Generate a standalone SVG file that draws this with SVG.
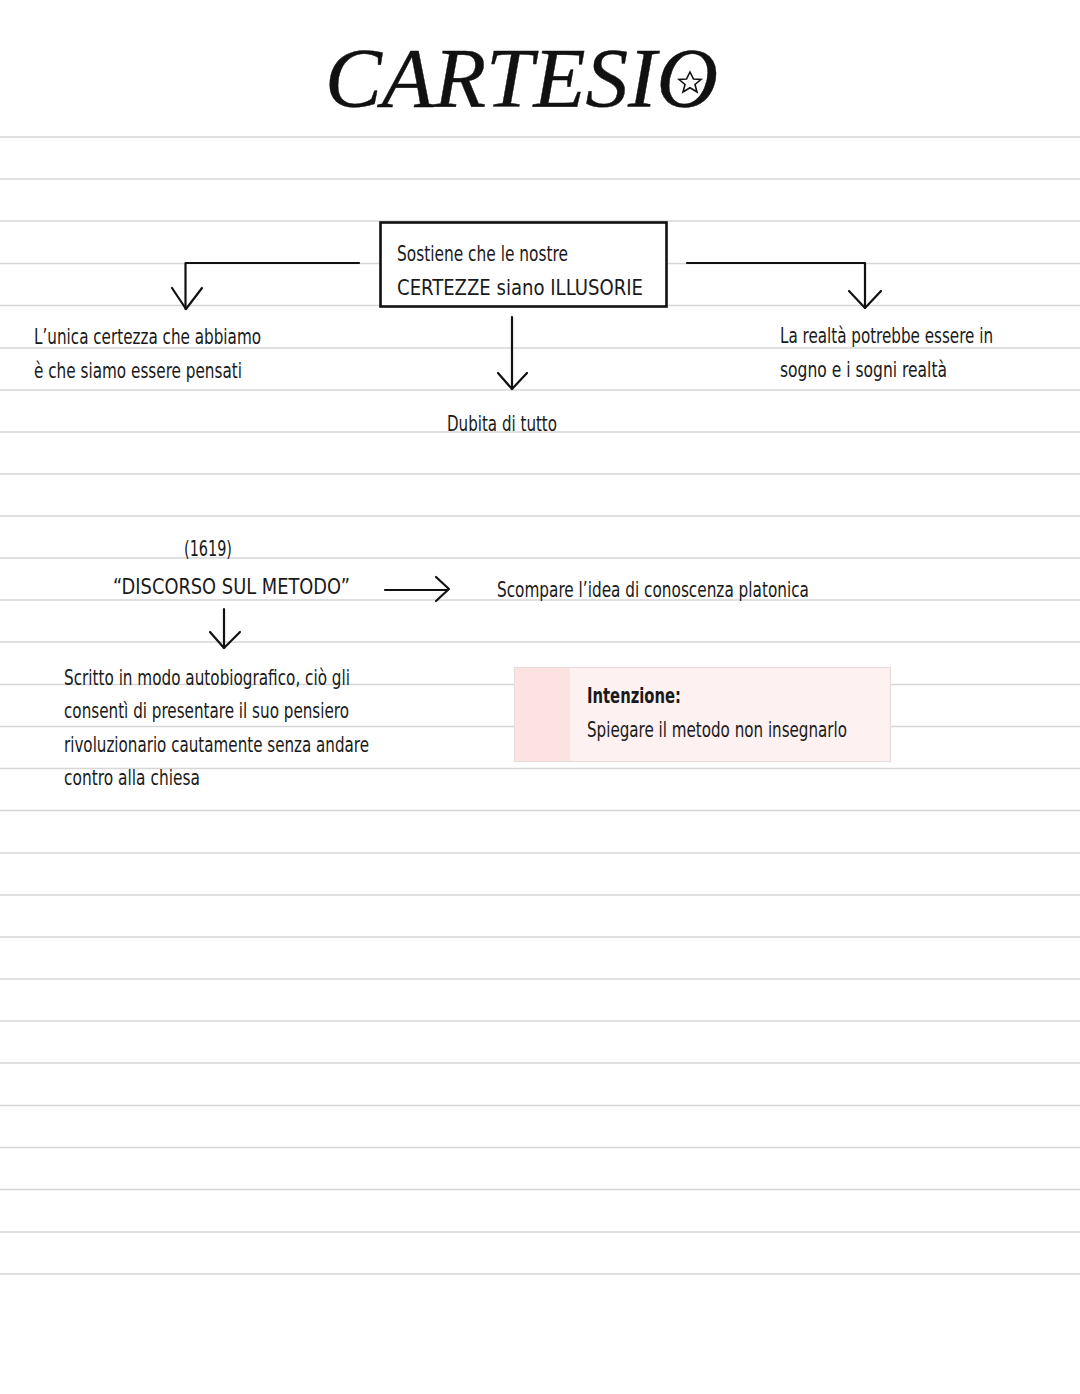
<svg xmlns="http://www.w3.org/2000/svg" width="1080" height="1394" viewBox="0 0 1080 1394">
<style>
.rule{stroke:#d6d6d6;stroke-width:1.6}
.t{font-family:"Liberation Sans Narrow","DejaVu Sans Condensed","Liberation Sans",sans-serif;font-size:21px;fill:#1a1a1a}
.b{font-weight:bold}
.c{fill:none;stroke:#111;stroke-width:2.2;stroke-linecap:round;stroke-linejoin:round}
.title{font-family:"Liberation Serif","DejaVu Serif",serif;font-style:italic;font-size:84px;fill:#111;stroke:#111;stroke-width:0.4}
</style>
<rect width="1080" height="1394" fill="#ffffff"/>
<g id="ruling">
<line class="rule" x1="0" x2="1080" y1="137" y2="137"/>
<line class="rule" x1="0" x2="1080" y1="179" y2="179"/>
<line class="rule" x1="0" x2="1080" y1="221" y2="221"/>
<line class="rule" x1="0" x2="1080" y1="263.5" y2="263.5"/>
<line class="rule" x1="0" x2="1080" y1="305.5" y2="305.5"/>
<line class="rule" x1="0" x2="1080" y1="348" y2="348"/>
<line class="rule" x1="0" x2="1080" y1="390" y2="390"/>
<line class="rule" x1="0" x2="1080" y1="432" y2="432"/>
<line class="rule" x1="0" x2="1080" y1="474" y2="474"/>
<line class="rule" x1="0" x2="1080" y1="516" y2="516"/>
<line class="rule" x1="0" x2="1080" y1="558" y2="558"/>
<line class="rule" x1="0" x2="1080" y1="600" y2="600"/>
<line class="rule" x1="0" x2="1080" y1="642" y2="642"/>
<line class="rule" x1="0" x2="1080" y1="684.5" y2="684.5"/>
<line class="rule" x1="0" x2="1080" y1="726.5" y2="726.5"/>
<line class="rule" x1="0" x2="1080" y1="768.5" y2="768.5"/>
<line class="rule" x1="0" x2="1080" y1="810.5" y2="810.5"/>
<line class="rule" x1="0" x2="1080" y1="853" y2="853"/>
<line class="rule" x1="0" x2="1080" y1="895" y2="895"/>
<line class="rule" x1="0" x2="1080" y1="937" y2="937"/>
<line class="rule" x1="0" x2="1080" y1="979" y2="979"/>
<line class="rule" x1="0" x2="1080" y1="1021" y2="1021"/>
<line class="rule" x1="0" x2="1080" y1="1063" y2="1063"/>
<line class="rule" x1="0" x2="1080" y1="1105.5" y2="1105.5"/>
<line class="rule" x1="0" x2="1080" y1="1147.5" y2="1147.5"/>
<line class="rule" x1="0" x2="1080" y1="1189.5" y2="1189.5"/>
<line class="rule" x1="0" x2="1080" y1="1232" y2="1232"/>
<line class="rule" x1="0" x2="1080" y1="1274" y2="1274"/>
</g>
<g id="title">
<text class="title" x="325" y="107" textLength="393" lengthAdjust="spacingAndGlyphs">CARTESIO</text>
<polygon points="690,72 693.5,79 701,79.5 695,84.5 697,92 690,87.8 683,92 685,84.5 679,79.5 686.5,79" fill="none" stroke="#111" stroke-width="1.6"/>
</g>
<g id="node-main">
<rect x="380.5" y="222.5" width="286" height="84" fill="#ffffff" stroke="#111" stroke-width="2.6"/>
<text class="t" x="397" y="261" textLength="171" lengthAdjust="spacingAndGlyphs">Sostiene che le nostre</text>
<text class="t" x="397" y="295" textLength="246" lengthAdjust="spacingAndGlyphs">CERTEZZE siano ILLUSORIE</text>
</g>
<g id="node-left">
<text class="t" x="34" y="344" textLength="227" lengthAdjust="spacingAndGlyphs">L’unica certezza che abbiamo</text>
<text class="t" x="34" y="378" textLength="208" lengthAdjust="spacingAndGlyphs">è che siamo essere pensati</text>
</g>
<g id="node-right">
<text class="t" x="780" y="343" textLength="213" lengthAdjust="spacingAndGlyphs">La realtà potrebbe essere in</text>
<text class="t" x="780" y="377" textLength="167" lengthAdjust="spacingAndGlyphs">sogno e i sogni realtà</text>
</g>
<g id="node-dubita">
<text class="t" x="447" y="431" textLength="110" lengthAdjust="spacingAndGlyphs">Dubita di tutto</text>
</g>
<g id="node-discorso">
<text class="t" x="184" y="556" textLength="48" lengthAdjust="spacingAndGlyphs">(1619)</text>
<text class="t" x="113" y="594" textLength="237" lengthAdjust="spacingAndGlyphs">“DISCORSO SUL METODO”</text>
</g>
<g id="node-scompare">
<text class="t" x="497" y="597" textLength="312" lengthAdjust="spacingAndGlyphs">Scompare l’idea di conoscenza platonica</text>
</g>
<g id="node-scritto">
<text class="t" x="64" y="685" textLength="286" lengthAdjust="spacingAndGlyphs">Scritto in modo autobiografico, ciò gli</text>
<text class="t" x="64" y="718" textLength="285" lengthAdjust="spacingAndGlyphs">consentì di presentare il suo pensiero</text>
<text class="t" x="64" y="752" textLength="305" lengthAdjust="spacingAndGlyphs">rivoluzionario cautamente senza andare</text>
<text class="t" x="64" y="785" textLength="136" lengthAdjust="spacingAndGlyphs">contro alla chiesa</text>
</g>
<g id="node-intenzione">
<rect x="514.5" y="667.5" width="376" height="94" fill="#fdf1f1" stroke="#e6dcdc" stroke-width="1.2"/>
<rect x="515" y="668" width="55" height="93" fill="#fde2e2"/>
<text class="t b" x="587" y="703" textLength="94" lengthAdjust="spacingAndGlyphs">Intenzione:</text>
<text class="t" x="587" y="737" textLength="260" lengthAdjust="spacingAndGlyphs">Spiegare il metodo non insegnarlo</text>
</g>
<g id="connectors">
<path class="c" d="M359,263 H185.5 V309"/>
<path class="c" d="M172,288 L186,309 L202,288"/>
<path class="c" d="M687,263 H865 V308"/>
<path class="c" d="M849,291 L865,308 L881,291"/>
<path class="c" d="M512,317 V389"/>
<path class="c" d="M498,373 L512,389 L527,373"/>
<path class="c" d="M385,590 H447"/>
<path class="c" d="M436,577 L449,589 L436,601"/>
<path class="c" d="M224,609 V648"/>
<path class="c" d="M210,632 L224,648 L240,632"/>
</g>
</svg>
